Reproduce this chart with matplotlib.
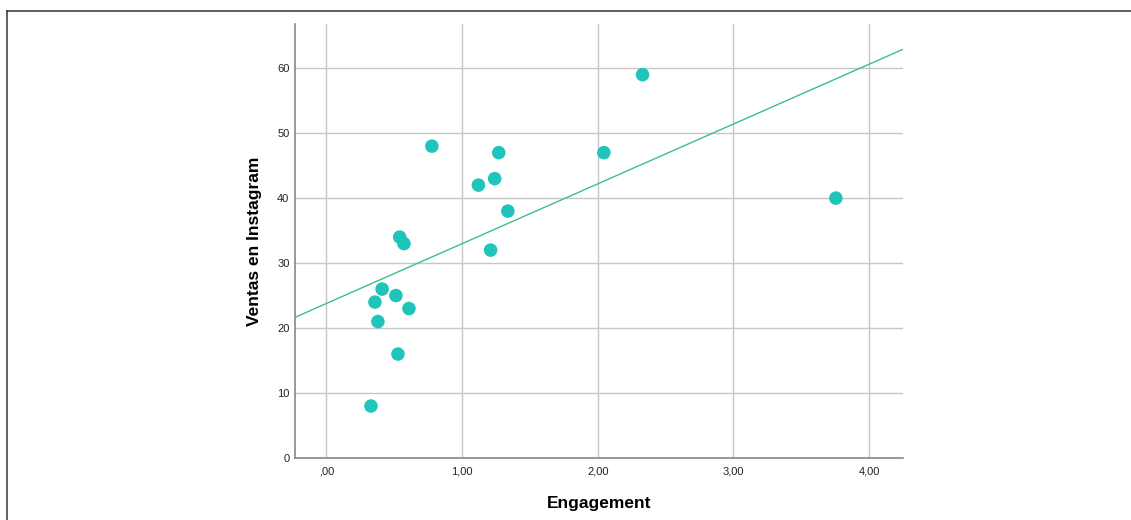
import numpy as np
import matplotlib.pyplot as plt
from matplotlib.lines import Line2D
from matplotlib.ticker import FuncFormatter

# Engagement vs. Instagram sales (one point per case)
engagement = [0.777, 2.33, 1.27, 1.12, 1.24, 2.045, 3.755, 1.337, 1.21,
              0.54, 0.571, 0.41, 0.512, 0.357, 0.608, 0.379, 0.527, 0.328]
ventas = [48, 59, 47, 42, 43, 47, 40, 38, 32,
          34, 33, 26, 25, 24, 23, 21, 16, 8]

x_ticks = [0, 1, 2, 3, 4]
y_ticks = [0, 10, 20, 30, 40, 50, 60]

plt.rcParams['font.family'] = ['Liberation Sans', 'DejaVu Sans']

fig = plt.figure(figsize=(11.31, 5.2), dpi=100)
W, H = 1131, 520

# outer frame lines (left and top)
fig.add_artist(Line2D([7 / W, 7 / W], [0, 1 - 11 / H], color='#555555', lw=1.3))
fig.add_artist(Line2D([7 / W, 1], [1 - 11 / H, 1 - 11 / H], color='#333333', lw=1.1))

ax = fig.add_axes([295 / W, 1 - 458 / H, (903 - 295) / W, (458 - 24) / H])
ax.set_xlim(-0.232, 4.25)
ax.set_ylim(0, 66.8)


def comma_fmt(v, pos):
    s = f"{v:.2f}".replace('.', ',')
    return s[1:] if s.startswith('0') else s


ax.set_xticks(x_ticks)
ax.set_yticks(y_ticks)
ax.xaxis.set_major_formatter(FuncFormatter(comma_fmt))
ax.tick_params(axis='both', length=0, labelsize=8, colors='#222222')
ax.tick_params(axis='x', pad=6)
ax.tick_params(axis='y', pad=4)

ax.grid(True, color='#c6c6c6', lw=1.0)
ax.set_axisbelow(True)
for s in ('top', 'right'):
    ax.spines[s].set_visible(False)
for s in ('left', 'bottom'):
    ax.spines[s].set_color('#888888')
    ax.spines[s].set_linewidth(1.2)

# points
ax.scatter(engagement, ventas, s=95, color='#1fc4bb', edgecolors='none', zorder=3)

# least-squares fit line across the full x range
slope, intercept = np.polyfit(engagement, ventas, 1)
xs = np.array(ax.get_xlim())
ax.plot(xs, intercept + slope * xs, color='#3cbf8e', lw=1.0, zorder=2)

ax.set_xlabel('Engagement', fontsize=12.5, fontweight='bold', labelpad=14)
ax.set_ylabel('Ventas en Instagram', fontsize=12.5, fontweight='bold', labelpad=11)

fig.savefig('out.png', dpi=100)
